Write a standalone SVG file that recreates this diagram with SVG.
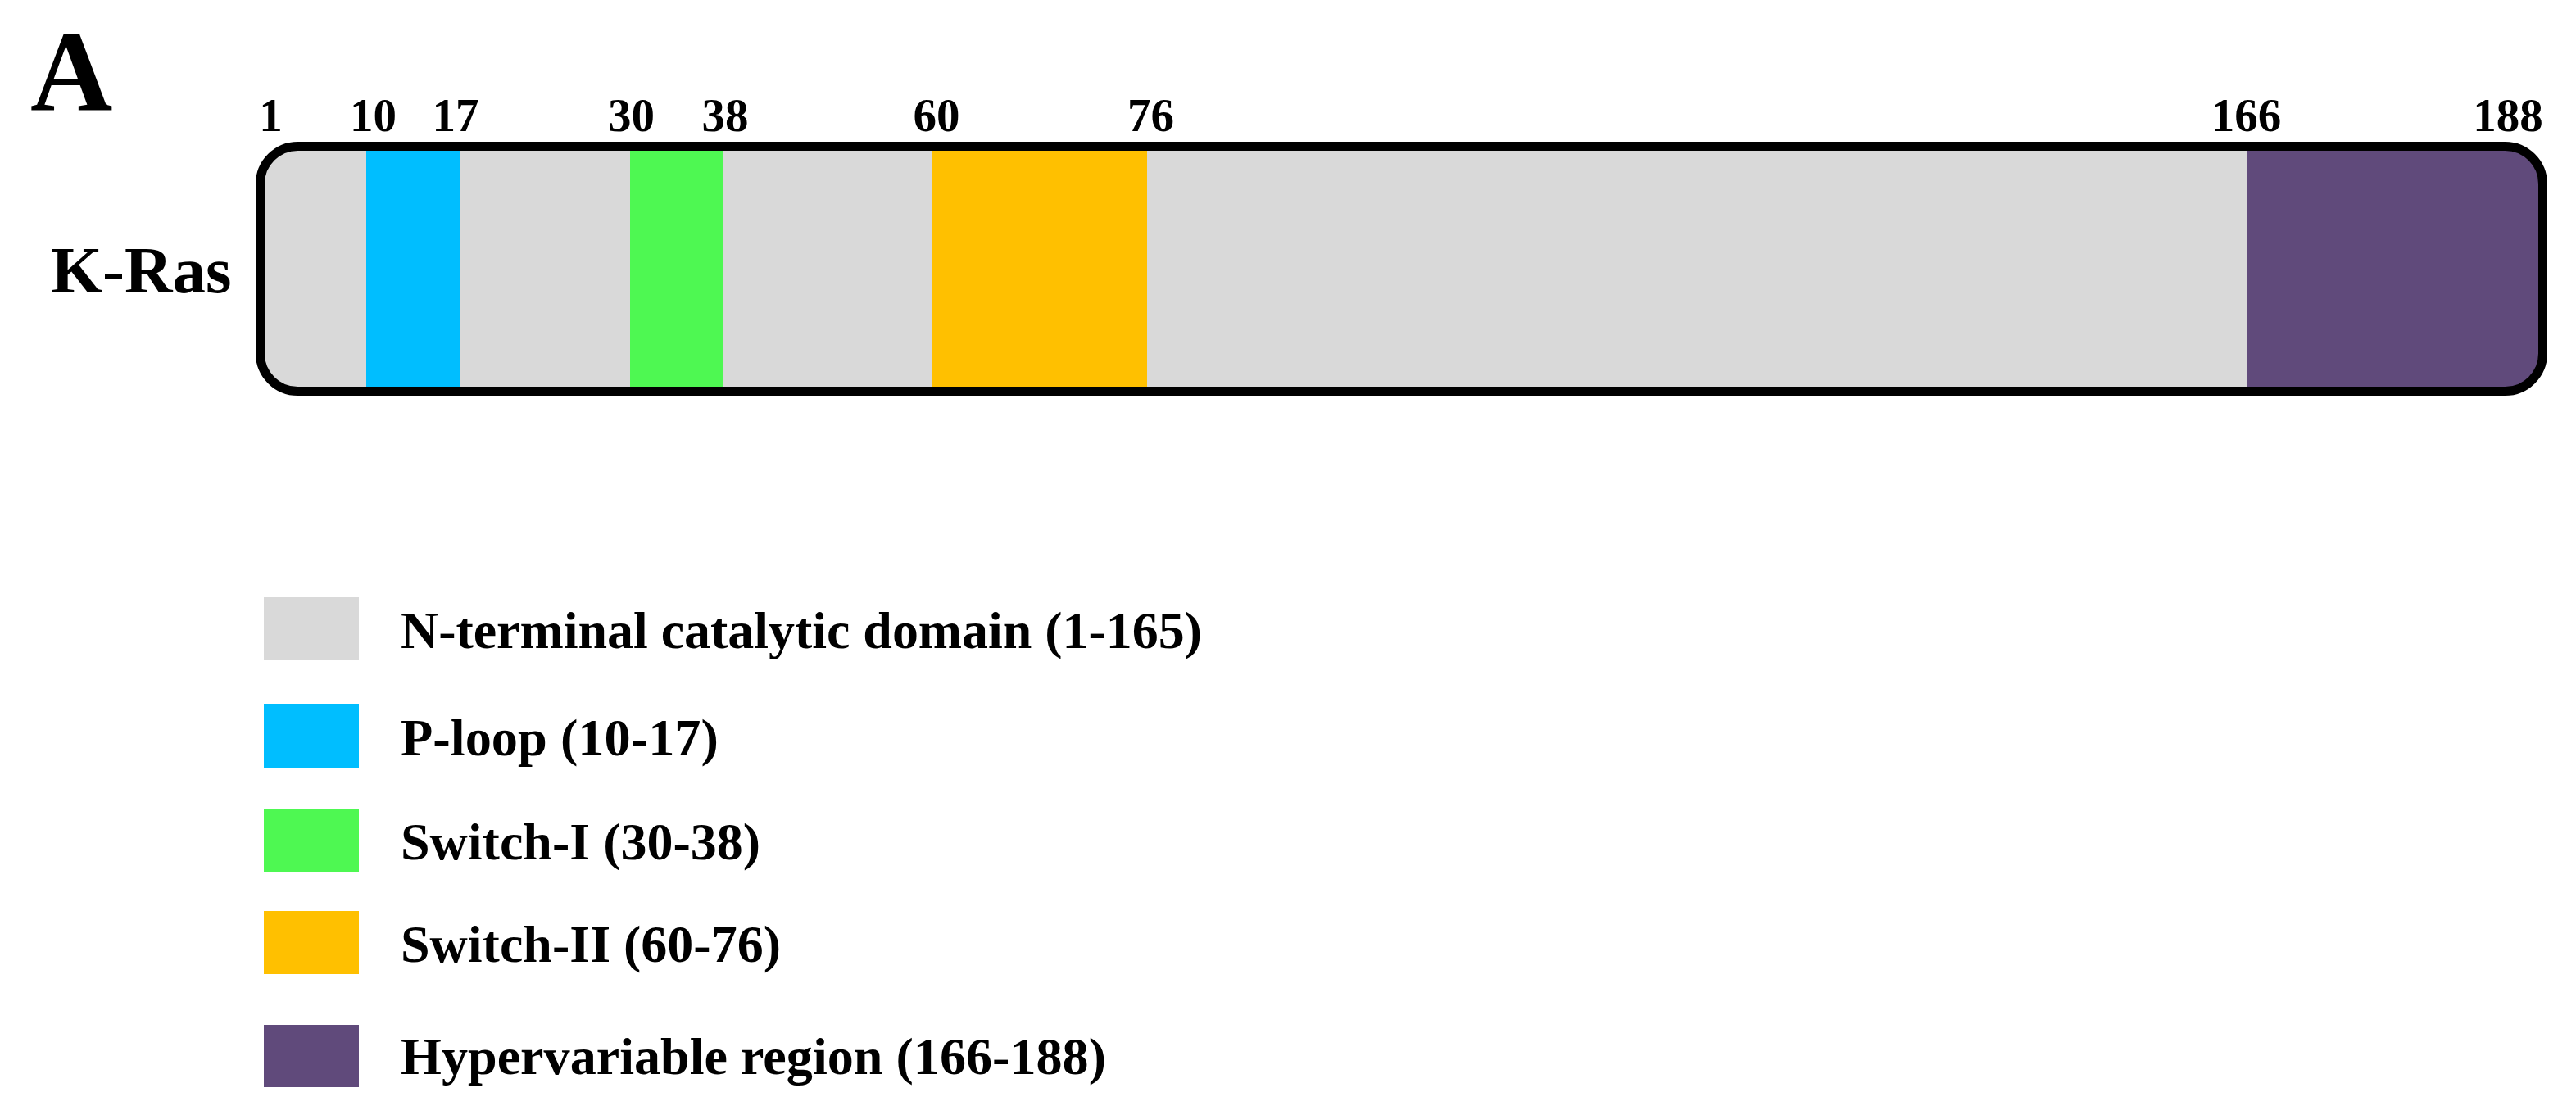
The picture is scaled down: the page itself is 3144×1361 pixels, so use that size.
<svg xmlns="http://www.w3.org/2000/svg" width="3144" height="1361" viewBox="0 0 3144 1361">
<style>
text{font-family:"Liberation Serif","Times New Roman",serif;font-weight:bold;fill:#000}
.num{font-size:57px;text-anchor:middle}
.leg{font-size:64px}
.grey{fill:#D9D9D9}.blue{fill:#00BEFF}.green{fill:#4EF852}.orange{fill:#FFC000}.purple{fill:#604A7B}
</style>
<defs>
<clipPath id="barclip"><rect x="317.5" y="178.5" width="2786" height="299" rx="46" ry="46"/></clipPath>
</defs>
<rect width="3144" height="1361" fill="#fff"/>
<text id="panel-label" x="37" y="135" style="font-size:139px">A</text>
<g id="ticks">
<text class="num" x="330.5" y="160">1</text>
<text class="num" x="455.5" y="160">10</text>
<text class="num" x="556" y="160">17</text>
<text class="num" x="770.5" y="160">30</text>
<text class="num" x="885" y="160">38</text>
<text class="num" x="1143" y="160">60</text>
<text class="num" x="1404.5" y="160">76</text>
<text class="num" x="2741.5" y="160">166</text>
<text class="num" x="3061" y="160">188</text>
</g>
<text id="protein-label" x="62" y="357" style="font-size:81px">K-Ras</text>
<g id="kras-bar">
<g clip-path="url(#barclip)">
<rect class="grey" x="310" y="170" width="2810" height="320"/>
<rect class="blue" x="447" y="170" width="114" height="320"/>
<rect class="green" x="769" y="170" width="113" height="320"/>
<rect class="orange" x="1138" y="170" width="262" height="320"/>
<rect class="purple" x="2742" y="170" width="380" height="320"/>
</g>
<rect x="317.5" y="178.5" width="2786" height="299" rx="46" ry="46" fill="none" stroke="#000" stroke-width="11"/>
</g>
<g id="legend">
<g id="legend-nterm"><rect class="grey" x="322" y="729" width="116" height="77"/><text class="leg" x="489" y="791" textLength="978" lengthAdjust="spacingAndGlyphs">N-terminal catalytic domain (1-165)</text></g>
<g id="legend-ploop"><rect class="blue" x="322" y="859" width="116" height="78"/><text class="leg" x="489" y="922" textLength="388" lengthAdjust="spacingAndGlyphs">P-loop (10-17)</text></g>
<g id="legend-switch1"><rect class="green" x="322" y="987" width="116" height="77"/><text class="leg" x="489" y="1049">Switch-I (30-38)</text></g>
<g id="legend-switch2"><rect class="orange" x="322" y="1112" width="116" height="77"/><text class="leg" x="489" y="1174">Switch-II (60-76)</text></g>
<g id="legend-hvr"><rect class="purple" x="322" y="1251" width="116" height="76"/><text class="leg" x="489" y="1311" textLength="861" lengthAdjust="spacingAndGlyphs">Hypervariable region (166-188)</text></g>
</g>
</svg>
